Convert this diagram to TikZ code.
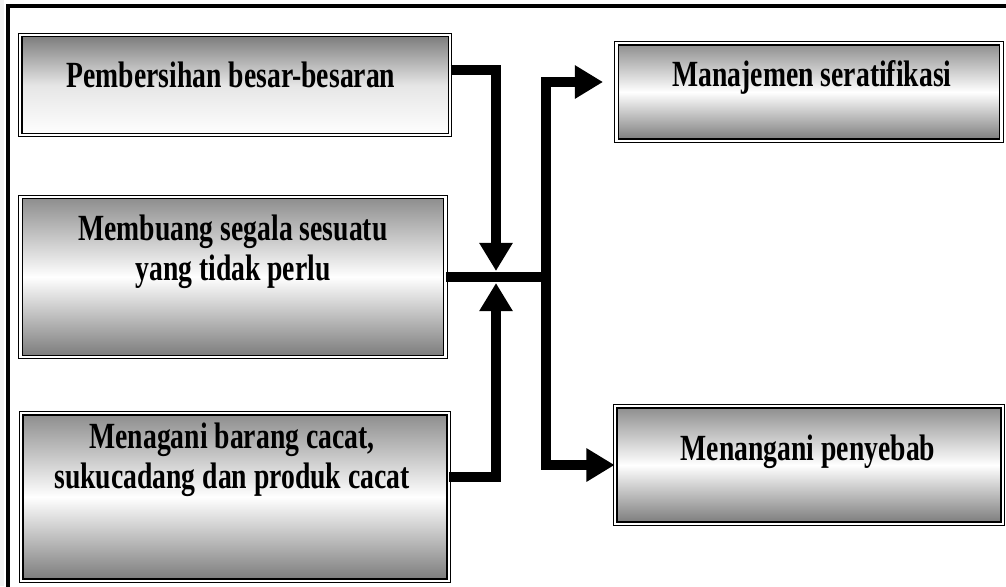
\documentclass[tikz,border=0pt]{standalone}
\usepackage{fontspec}
\setmainfont{Liberation Serif}[FakeStretch=0.75]
\usepackage{tikz}
\usetikzlibrary{arrows.meta,positioning,calc}

\tikzset{
  panel/.style={draw=black, double=white, double distance=1.2pt, line width=0.8pt,
    inner sep=0pt, top color=black!45, bottom color=black!52, middle color=white},
  fadepanel/.style={panel, top color=black!52, bottom color=white, middle color=black!10},
  caption/.style={font=\bfseries\fontsize{21}{22.5}\selectfont, align=center, inner sep=0pt},
  flow/.style={line width=0.2cm},
  tip/.style={-{Triangle[length=16pt,width=18pt]}}
}

\begin{document}
\begin{tikzpicture}[x=0.02cm, y=-0.02cm]
    \useasboundingbox (0,0) rectangle (1006,586);

    % page edge and frame
    \fill[black!6] (0,0) rectangle (4,586);
    \draw[line width=0.08cm] (8,600) -- (8,6) -- (1010,6);

    % Left column
    \node[fadepanel, minimum width=8.6cm, minimum height=2.0cm] (b1) at (235,85) {};
    \node[caption] (t1) at (231,75) {Pembersihan besar-besaran};

    \node[panel, minimum width=8.5cm, minimum height=3.2cm] (b2) at (233,277) {};
    \node[caption] (t2) at (233,252) {Membuang segala sesuatu\\yang tidak perlu};

    \node[panel, minimum width=8.55cm, minimum height=3.35cm] (b3) at (235,497) {};
    \node[caption] (t3) at (232,460) {Menagani barang cacat,\\sukucadang dan produk cacat};

    % Right column
    \node[panel, minimum width=7.7cm, minimum height=1.95cm] (b4) at (809,92) {};
    \node[caption] (t4) at (812,77) {Manajemen seratifikasi};

    \node[panel, minimum width=7.75cm, minimum height=2.35cm] (b5) at (809,465) {};
    \node[caption] (t5) at (808,452) {Menangani penyebab};

    % junction points
    \coordinate (jtop) at (496,271);
    \coordinate (jbot) at (496,283);
    \coordinate (split) at (546,277);
    \coordinate (a4) at (603,82);

    % inputs
    \draw[flow, tip] ([yshift=0.31cm]b1.east) -| (jtop);
    \draw[flow, tip] ([yshift=0.41cm]b3.east) -| (jbot);
    \draw[flow] (b2.east) -- ([xshift=0.1cm]split);

    % outputs
    \draw[flow, {Triangle[length=16pt,width=18pt]}-{Triangle[length=16pt,width=18pt]}]
        (a4) -| (split) |- (b5.west);
\end{tikzpicture}
\end{document}
